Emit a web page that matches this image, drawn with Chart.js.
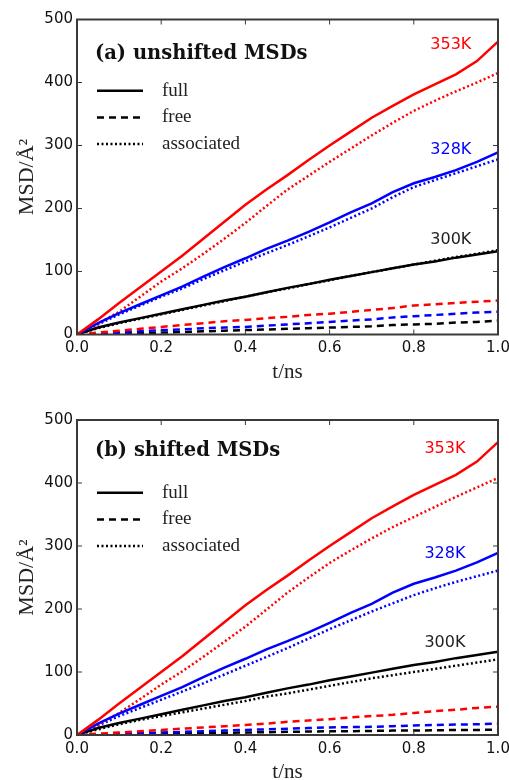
<!DOCTYPE html>
<html>
<head>
<meta charset="utf-8">
<script src="https://cdn.jsdelivr.net/npm/chart.js@4/dist/chart.umd.min.js"></script>
<style>
  html, body { margin: 0; padding: 0; background: #fff; }
  .panel { position: relative; width: 509px; height: 390px; }
  canvas { display: block; }
</style>
</head>
<body>
<div class="panel"><canvas id="msdA" width="509" height="390"></canvas></div>
<div class="panel"><canvas id="msdB" width="509" height="390"></canvas></div>
<script>
// time axis (ns)
const times = [0, 0.05, 0.1, 0.15, 0.2, 0.25, 0.3, 0.35, 0.4, 0.45, 0.5,
               0.55, 0.6, 0.65, 0.7, 0.75, 0.8, 0.85, 0.9, 0.95, 1.0];
const temps = ['353K', '328K', '300K'];
const kinds = ['full', 'free', 'associated'];
const xTicks = [0, 0.2, 0.4, 0.6, 0.8, 1.0];
const yTicks = [0, 100, 200, 300, 400, 500];

// full MSD is the same in both panels
const full353 = [0, 24, 50, 75, 100, 125, 152, 179, 206, 230, 253, 277, 300, 322, 344, 363, 381, 397, 413, 434, 465];
const full328 = [0, 18, 34, 48, 62, 76, 92, 107, 121, 136, 149, 163, 178, 194, 208, 226, 240, 250, 261, 274, 289];
const full300 = [0, 11, 19, 26, 33, 40, 47, 54, 60, 67, 74, 80, 87, 93, 99, 105, 111, 116, 122, 127, 132];

// (a) unshifted
const freeA353 = [0, 3, 6, 9, 12, 15, 18, 21, 23, 26, 28, 31, 33, 36, 39, 42, 46, 48, 50, 52, 54];
const freeA328 = [0, 1, 3, 5, 7, 8, 10, 11, 12, 14, 16, 18, 20, 22, 24, 27, 29, 31, 33, 35, 36];
const freeA300 = [0, 0.5, 1, 2, 3, 4, 5, 6, 7, 8, 9, 10, 11, 12, 13, 15, 16, 17, 19, 20, 22];
const assocA353 = [0, 17, 36, 60, 84, 105, 128, 152, 177, 204, 230, 252, 274, 295, 316, 336, 355, 371, 386, 400, 415];
const assocA328 = [0, 16, 32, 46, 60, 73, 88, 102, 116, 129, 142, 156, 170, 185, 200, 218, 234, 245, 256, 267, 278];
const assocA300 = [0, 10, 18, 25, 32, 39, 46, 53, 60, 67, 73, 80, 86, 93, 99, 105, 111, 117, 123, 128, 134];

// (b) shifted
const freeB353 = [0, 2, 4, 6, 8, 10, 12, 14, 16, 18, 21, 23, 25, 28, 30, 32, 35, 38, 40, 43, 45];
const freeB328 = [0, 1, 2, 3, 4, 5, 6, 7, 8, 9, 10, 11, 12, 12.5, 13, 14, 15, 16, 16.5, 17, 18];
const freeB300 = [0, 0.5, 1, 1.5, 2, 2.5, 3, 3.5, 4, 4.5, 5, 5.5, 6, 6, 6.5, 7, 7, 7.5, 8, 8, 8.5];
const assocB353 = [0, 16, 35, 57, 80, 101, 124, 148, 172, 199, 226, 250, 273, 293, 312, 330, 346, 362, 378, 393, 408];
const assocB328 = [0, 15, 30, 43, 56, 69, 82, 96, 110, 124, 138, 153, 168, 182, 196, 209, 222, 233, 243, 252, 261];
const assocB300 = [0, 9, 17, 24, 30, 36, 42, 48, 54, 61, 66, 72, 78, 84, 90, 95, 100, 105, 110, 115, 120];

const colors = { '353K': '#ff0000', '328K': '#0000ff', '300K': '#000000' };
const dashes = { full: [], free: [7, 5], associated: [2, 2.5] };
const frameColor = '#3a3a3a';

function pts(ys) {
  return ys.map((y, i) => ({ x: times[i], y: y }));
}

function makeSets(full, free, assoc) {
  const sets = [];
  const series = { full: full, free: free, associated: assoc };
  kinds.forEach(kind => {
    temps.forEach((t, i) => {
      sets.push({
        label: t + ' ' + kind,
        data: pts(series[kind][i]),
        borderColor: colors[t],
        borderWidth: 2.5,
        borderDash: dashes[kind],
        pointRadius: 0,
        tension: 0,
        fill: false
      });
    });
  });
  return sets;
}

// frame with inward ticks, legend, title and temperature labels
const decorations = {
  id: 'decorations',
  afterDatasetsDraw(chart) {
    const { ctx, chartArea: a, scales: { x, y } } = chart;
    const opt = chart.options.plugins.decorations;
    ctx.save();
    ctx.strokeStyle = frameColor;
    ctx.lineWidth = 2;
    ctx.setLineDash([]);
    ctx.strokeRect(a.left, a.top, a.right - a.left, a.bottom - a.top);
    ctx.lineWidth = 1;
    ctx.beginPath();
    xTicks.forEach(v => {
      const px = x.getPixelForValue(v);
      ctx.moveTo(px, a.bottom); ctx.lineTo(px, a.bottom - 5);
      ctx.moveTo(px, a.top); ctx.lineTo(px, a.top + 5);
    });
    yTicks.forEach(v => {
      const py = y.getPixelForValue(v);
      ctx.moveTo(a.left, py); ctx.lineTo(a.left + 5, py);
      ctx.moveTo(a.right, py); ctx.lineTo(a.right - 5, py);
    });
    ctx.stroke();

    // panel title
    ctx.fillStyle = '#111';
    ctx.textBaseline = 'middle';
    ctx.textAlign = 'left';
    ctx.font = 'bold 19.5px "DejaVu Serif"';
    ctx.fillText(opt.title, a.left + 18, a.top + opt.titleOffset);

    // legend
    ctx.font = '19px "Liberation Serif"';
    kinds.forEach((kind, i) => {
      const ly = a.top + opt.legendOffset + i * 26.7;
      ctx.strokeStyle = '#000';
      ctx.lineWidth = 2.5;
      ctx.setLineDash(dashes[kind]);
      ctx.beginPath();
      ctx.moveTo(a.left + 20, ly);
      ctx.lineTo(a.left + 66, ly);
      ctx.stroke();
      ctx.setLineDash([]);
      ctx.fillStyle = '#222';
      ctx.fillText(kind, a.left + 85, ly);
    });

    // temperature labels
    ctx.font = '16px "DejaVu Sans"';
    ctx.textAlign = 'center';
    temps.forEach((t, i) => {
      ctx.fillStyle = colors[t] === '#000000' ? '#222' : colors[t];
      ctx.fillText(t, x.getPixelForValue(opt.tempAt[i][0]), y.getPixelForValue(opt.tempAt[i][1]));
    });
    ctx.restore();
  }
};

function makeChart(id, sets, opt) {
  new Chart(document.getElementById(id), {
    type: 'line',
    data: { datasets: sets },
    plugins: [decorations],
    options: {
      responsive: false,
      animation: false,
      layout: { padding: { top: opt.padTop, right: 11, left: 0, bottom: 0 } },
      plugins: {
        legend: { display: false },
        tooltip: { enabled: false },
        decorations: opt
      },
      scales: {
        x: {
          type: 'linear',
          min: 0,
          max: 1,
          grid: { display: false, drawTicks: false },
          border: { display: false },
          afterBuildTicks: s => { s.ticks = xTicks.map(v => ({ value: v })); },
          afterFit: s => { s.height = 390 - opt.padTop - 315; s.paddingLeft = 0; s.paddingRight = 0; },
          ticks: {
            padding: 5,
            color: '#111',
            font: { family: 'DejaVu Sans', size: 15 },
            callback: v => v.toFixed(1)
          },
          title: {
            display: true,
            text: 't/ns',
            color: '#222',
            font: { family: 'Liberation Serif', size: 21, lineHeight: 1.2 },
            padding: { top: 0, bottom: opt.xTitlePad }
          }
        },
        y: {
          type: 'linear',
          min: 0,
          max: 500,
          grid: { display: false, drawTicks: false },
          border: { display: false },
          afterBuildTicks: s => { s.ticks = yTicks.map(v => ({ value: v })); },
          afterFit: s => { s.width = 77; s.paddingTop = 0; s.paddingBottom = 0; },
          ticks: {
            padding: 4,
            color: '#111',
            font: { family: 'DejaVu Sans', size: 15 }
          },
          title: {
            display: true,
            text: 'MSD/Å²',
            color: '#222',
            font: { family: 'Liberation Serif', size: 22, lineHeight: 1.2 },
            padding: { top: 14, bottom: 0 }
          }
        }
      }
    }
  });
}

makeChart('msdA', makeSets([full353, full328, full300], [freeA353, freeA328, freeA300], [assocA353, assocA328, assocA300]), {
  title: '(a) unshifted MSDs',
  padTop: 19.5,
  titleOffset: 34.5,
  legendOffset: 71.2,
  xTitlePad: 5,
  tempAt: [[0.888, 459], [0.888, 293], [0.888, 150]]
});

makeChart('msdB', makeSets([full353, full328, full300], [freeB353, freeB328, freeB300], [assocB353, assocB328, assocB300]), {
  title: '(b) shifted MSDs',
  padTop: 30,
  titleOffset: 30.8,
  legendOffset: 72.7,
  xTitlePad: -5,
  tempAt: [[0.874, 454], [0.874, 288], [0.874, 147]]
});
</script>
</body>
</html>
